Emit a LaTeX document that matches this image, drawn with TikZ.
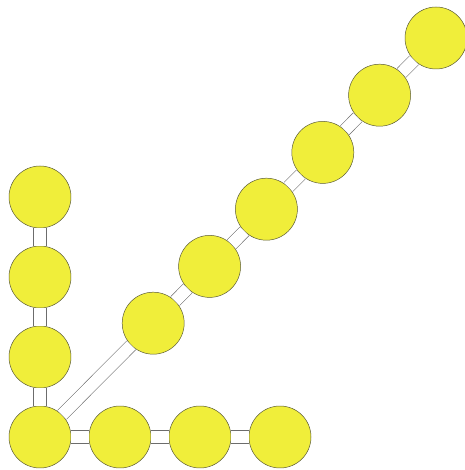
\documentclass[tikz,border=0pt]{standalone}
\usetikzlibrary{positioning}
\definecolor{ballfill}{RGB}{240,238,58}
\definecolor{balldraw}{RGB}{90,90,55}
\tikzset{
  ball/.style = {circle, fill=ballfill, draw=balldraw, minimum size=1.55cm, inner sep=0pt, line width=0.35pt},
  bond/.style = {draw=gray!85!black, double=white, double distance=8.5pt, line width=0.4pt},
}
\begin{document}
\begin{tikzpicture}
  \useasboundingbox (0,0) rectangle (11.6,11.75);
  % root
  \node [ball] (o) at (1,0.825) {};
  % along the bottom
  \node [ball] (r1) at (3,0.825) {};
  \node [ball] (r2) at (5,0.825) {};
  \node [ball] (r3) at (7,0.825) {};
  % up the left side
  \node [ball] (u1) at (1,2.825) {};
  \node [ball] (u2) at (1,4.825) {};
  \node [ball] (u3) at (1,6.825) {};
  % diagonal
  \node [ball] (d1) at (3.83,3.67) {};
  \node [ball] (d2) at (5.24,5.09) {};
  \node [ball] (d3) at (6.66,6.52) {};
  \node [ball] (d4) at (8.07,7.94) {};
  \node [ball] (d5) at (9.49,9.37) {};
  \node [ball] (d6) at (10.90,10.80) {};
  % bonds
  \draw [bond] (o) -- (r1);
  \draw [bond] (r1) -- (r2);
  \draw [bond] (r2) -- (r3);
  \draw [bond] (o) -- (u1);
  \draw [bond] (u1) -- (u2);
  \draw [bond] (u2) -- (u3);
  \draw [bond] (o) -- (d1);
  \draw [bond] (d1) -- (d2);
  \draw [bond] (d2) -- (d3);
  \draw [bond] (d3) -- (d4);
  \draw [bond] (d4) -- (d5);
  \draw [bond] (d5) -- (d6);
\end{tikzpicture}
\end{document}
